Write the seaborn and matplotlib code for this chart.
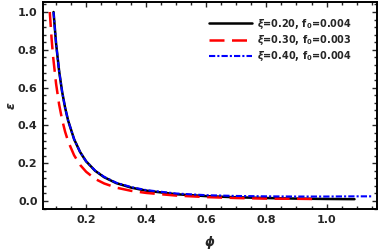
import numpy as np
import pandas as pd
import matplotlib
matplotlib.use("Agg")
import matplotlib.pyplot as plt
import seaborn as sns
from matplotlib.ticker import MultipleLocator

# values
phi_a = [0.0915, 0.10, 0.11, 0.12, 0.13, 0.14, 0.16, 0.18, 0.20, 0.23, 0.26, 0.30,
         0.35, 0.40, 0.50, 0.60, 0.70, 0.80, 0.90, 1.00, 1.093]
eps_a = [1.0, 0.833, 0.689, 0.579, 0.494, 0.426, 0.327, 0.259, 0.21, 0.160, 0.126, 0.095,
         0.071, 0.055, 0.036, 0.026, 0.020, 0.016, 0.013, 0.011, 0.010]

phi_b = [0.079, 0.085, 0.09, 0.10, 0.11, 0.12, 0.13, 0.14, 0.16, 0.18, 0.20, 0.23, 0.26,
         0.30, 0.35, 0.40, 0.50, 0.60, 0.70, 0.80, 0.90, 0.955]
eps_b = [1.0, 0.860, 0.765, 0.62, 0.512, 0.431, 0.367, 0.316, 0.242, 0.191, 0.155, 0.117,
         0.093, 0.071, 0.054, 0.043, 0.029, 0.021, 0.016, 0.013, 0.012, 0.011]

phi_c = [0.0915, 0.10, 0.11, 0.12, 0.13, 0.14, 0.16, 0.18, 0.20, 0.23, 0.26, 0.30,
         0.35, 0.40, 0.50, 0.60, 0.70, 0.80, 0.90, 1.00, 1.10, 1.155]
eps_c = [1.0, 0.833, 0.689, 0.579, 0.494, 0.426, 0.327, 0.259, 0.21, 0.161, 0.128, 0.097,
         0.074, 0.058, 0.040, 0.031, 0.027, 0.025, 0.024, 0.024, 0.025, 0.025]

labels = [r"$\xi$=0.20, f$_0$=0.004", r"$\xi$=0.30, f$_0$=0.003", r"$\xi$=0.40, f$_0$=0.004"]

sns.set_style("ticks")
plt.rcParams["font.family"] = ["DejaVu Sans"]
plt.rcParams["font.weight"] = "bold"
plt.rcParams["mathtext.fontset"] = "custom"
plt.rcParams["mathtext.it"] = "DejaVu Sans:italic:bold"
plt.rcParams["mathtext.rm"] = "DejaVu Sans:bold"
plt.rcParams["mathtext.bf"] = "DejaVu Sans:bold"

fig = plt.figure(figsize=(3.82, 2.5), dpi=100)
ax = fig.add_axes([0.113, 0.164, 0.874, 0.828])

df_a = pd.DataFrame({"phi": phi_a, "eps": eps_a})
df_b = pd.DataFrame({"phi": phi_b, "eps": eps_b})
df_c = pd.DataFrame({"phi": phi_c, "eps": eps_c})

sns.lineplot(data=df_a, x="phi", y="eps", color="black", lw=1.8, ax=ax, label=labels[0])
sns.lineplot(data=df_b, x="phi", y="eps", color="red", lw=1.8, ax=ax, label=labels[1],
             linestyle=(0, (6, 3)))
sns.lineplot(data=df_c, x="phi", y="eps", color="blue", lw=1.5, ax=ax, label=labels[2],
             linestyle=(0, (3, 1.0, 1, 1.0)))

ax.set_xlim(0.057, 1.168)
ax.set_ylim(-0.042, 1.053)
ax.xaxis.set_major_locator(MultipleLocator(0.2))
ax.xaxis.set_minor_locator(MultipleLocator(0.05))
ax.yaxis.set_major_locator(MultipleLocator(0.2))
ax.yaxis.set_minor_locator(MultipleLocator(0.04))
ax.xaxis.set_major_formatter(matplotlib.ticker.FormatStrFormatter("%.1f"))
ax.yaxis.set_major_formatter(matplotlib.ticker.FormatStrFormatter("%.1f"))
ax.tick_params(which="both", direction="in", top=True, right=True, width=1.0,
               labelsize=8, pad=4)
ax.tick_params(which="major", length=3.5)
ax.tick_params(which="minor", length=2)
for s in ax.spines.values():
    s.set_linewidth(1.4)
    s.set_color("black")

ax.set_xlabel(r"$\phi$", fontsize=9)
ax.set_ylabel(r"$\epsilon$", fontsize=9)
ax.xaxis.set_label_coords(0.5, -0.12)
ax.yaxis.set_label_coords(-0.075, 0.5)

leg = ax.legend(loc="upper right", bbox_to_anchor=(0.961, 0.986), frameon=False,
                fontsize=7, handlelength=4.5, labelspacing=0.25, borderaxespad=0.8,
                handletextpad=0.5)

fig.savefig("out.png", dpi=100)
